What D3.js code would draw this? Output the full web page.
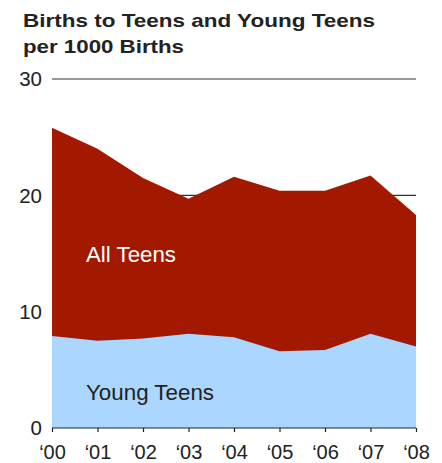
<!DOCTYPE html>
<html><head><meta charset="utf-8">
<script src="https://cdn.jsdelivr.net/npm/d3@7"></script>
<style>html,body{margin:0;padding:0;background:#fff;}svg{display:block;}</style>
</head><body>
<script>
const years = ["‘00","‘01","‘02","‘03","‘04","‘05","‘06","‘07","‘08"];
const allTeens = [25.8, 24.0, 21.5, 19.7, 21.6, 20.4, 20.4, 21.7, 18.3];
const youngTeens = [7.9, 7.5, 7.7, 8.1, 7.8, 6.6, 6.7, 8.1, 7.0];
const yTicks = [0, 10, 20, 30];
const titleLines = ["Births to Teens and Young Teens", "per 1000 Births"];

const W = 442, H = 463;
const svg = d3.select("body").append("svg").attr("width", W).attr("height", H);
const x = d3.scalePoint().domain(years).range([52, 416]);
const y = d3.scaleLinear().domain([0, 30]).range([428, 79]);
const font = "Arial, 'Liberation Sans', sans-serif";

// title
const titleW = [352, 161];
svg.append("g").selectAll("text").data(titleLines).join("text")
  .attr("x", 23).attr("y", (d, i) => 26.7 + i * 26.6)
  .attr("font-family", font).attr("font-weight", "bold").attr("font-size", 19)
  .attr("textLength", (d, i) => titleW[i]).attr("lengthAdjust", "spacingAndGlyphs")
  .attr("fill", "#222").text(d => d);

// gridlines
const grid = svg.append("g");
grid.selectAll("line").data(yTicks.filter(d => d > 0)).join("line")
  .attr("x1", 52).attr("x2", 416)
  .attr("y1", d => y(d)).attr("y2", d => y(d))
  .attr("stroke", "#333").attr("stroke-width", 1.2);

const idx = d3.range(years.length);
const areaAll = d3.area().x(i => x(years[i])).y0(y(0)).y1(i => y(allTeens[i]));
const areaYoung = d3.area().x(i => x(years[i])).y0(y(0)).y1(i => y(youngTeens[i]));
svg.append("path").datum(idx).attr("d", areaAll).attr("fill", "#a31900");
svg.append("path").datum(idx).attr("d", areaYoung).attr("fill", "#abd6fe");

// y labels
svg.append("g").selectAll("text").data(yTicks).join("text")
  .attr("x", 42).attr("y", d => y(d)).attr("dy", "0.36em")
  .attr("text-anchor", "end").attr("font-family", font).attr("font-size", 20.5)
  .attr("fill", "#222").text(d => d);

// x axis
const xAxis = d3.axisBottom(x).tickSize(4).tickPadding(0);
const gx = svg.append("g").attr("transform", `translate(0,${y(0)})`).call(xAxis);
gx.select(".domain").attr("stroke", "#222").attr("stroke-width", 1.2).attr("d", `M52,0H416`);
gx.selectAll(".tick line").attr("stroke", "#222").attr("stroke-width", 1.2);
gx.selectAll(".tick text").attr("font-family", font).attr("font-size", 20).attr("fill", "#222")
  .attr("dy", null).attr("y", 30.5);

// series labels
svg.append("text").attr("x", 86).attr("y", 262).attr("font-family", font).attr("font-size", 21.5)
  .attr("textLength", 90).attr("lengthAdjust", "spacingAndGlyphs")
  .attr("fill", "#fff").text("All Teens");
svg.append("text").attr("x", 86).attr("y", 400).attr("font-family", font).attr("font-size", 21.5)
  .attr("textLength", 128).attr("lengthAdjust", "spacingAndGlyphs")
  .attr("fill", "#222").text("Young Teens");
</script>
</body></html>
